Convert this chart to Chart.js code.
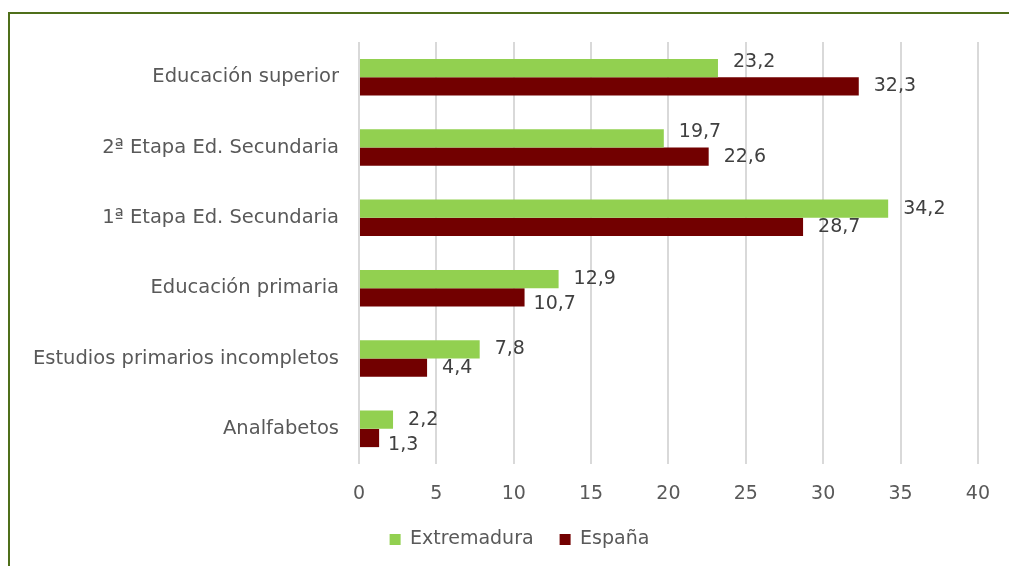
<!DOCTYPE html>
<html lang="es">
<head>
  <meta charset="UTF-8">
  <title>Nivel de estudios: Extremadura y España</title>
  <script src="https://cdn.jsdelivr.net/npm/chart.js"></script>
  <style>
    html, body {
      margin: 0;
      padding: 0;
      background: #ffffff;
      overflow: hidden;
    }
    .frame {
      position: absolute;
      left: 8px;
      top: 12px;
      width: 1001px;
      height: 554px;
      border-top: 2px solid #4f6f1a;
      border-left: 2px solid #4f6f1a;
    }
    .chart-box {
      position: absolute;
      left: 0;
      top: 0;
      width: 1009px;
      height: 566px;
    }
  </style>
</head>
<body>
  <div class="frame"></div>
  <div class="chart-box">
    <canvas id="estudiosChart"></canvas>
  </div>

  <script>
    const categorias = [
      'Educación superior',
      '2ª Etapa Ed. Secundaria',
      '1ª Etapa Ed. Secundaria',
      'Educación primaria',
      'Estudios primarios incompletos',
      'Analfabetos'
    ];
    const extremadura = [23.2, 19.7, 34.2, 12.9, 7.8, 2.2];
    const espana = [32.3, 22.6, 28.7, 10.7, 4.4, 1.3];

    const textColor = '#595959';
    const fontFamily = '"DejaVu Sans", Verdana, sans-serif';

    const fmt = v => v.toFixed(1).replace('.', ',');

    // etiquetas de valor a la derecha de cada barra (coma decimal),
    // separadas en vertical cuando chocan con la otra barra o etiqueta
    const valueLabels = {
      id: 'valueLabels',
      afterDatasetsDraw(chart) {
        const ctx = chart.ctx;
        const g = chart.getDatasetMeta(0).data;
        const r = chart.getDatasetMeta(1).data;
        const gv = chart.data.datasets[0].data;
        const rv = chart.data.datasets[1].data;
        ctx.save();
        ctx.font = '19px ' + fontFamily;
        ctx.fillStyle = '#404040';
        ctx.textAlign = 'left';
        ctx.textBaseline = 'middle';
        g.forEach((gBar, j) => {
          const rBar = r[j];
          const gt = fmt(gv[j]), rt = fmt(rv[j]);
          const gx = gBar.x + 15, rx = rBar.x + 15;
          const gw = ctx.measureText(gt).width, rw = ctx.measureText(rt).width;
          const gUp = rBar.x > gx;
          const rDown = !gUp && rx < gx + gw && gx < rx + rw;
          ctx.fillText(gt, gx, gBar.y - (gUp ? 6 : 0));
          ctx.fillText(rt, rDown ? rBar.x + 9 : rx, rBar.y + (rDown ? 7 : 0));
        });
        ctx.restore();
      }
    };

    // la leyenda va algo desplazada a la derecha en el original
    const legendShift = {
      id: 'legendShift',
      afterLayout(chart) {
        chart.legend.left += 30;
        chart.legend.right += 30;
      }
    };

    new Chart(document.getElementById('estudiosChart'), {
      type: 'bar',
      data: {
        labels: categorias,
        datasets: [
          {
            label: 'Extremadura',
            data: extremadura,
            backgroundColor: '#92d050',
            categoryPercentage: 0.52,
            barPercentage: 1
          },
          {
            label: 'España',
            data: espana,
            backgroundColor: '#720000',
            categoryPercentage: 0.52,
            barPercentage: 1
          }
        ]
      },
      options: {
        indexAxis: 'y',
        responsive: true,
        maintainAspectRatio: false,
        animation: false,
        layout: {
          padding: { top: 42, right: 30, bottom: 7, left: 0 }
        },
        plugins: {
          legend: {
            position: 'bottom',
            labels: {
              boxWidth: 11,
              boxHeight: 11,
              padding: 26,
              color: textColor,
              font: { family: fontFamily, size: 19 }
            }
          },
          tooltip: { enabled: false }
        },
        scales: {
          x: {
            min: 0,
            max: 40,
            afterFit(scale) { scale.height = 40; },
            ticks: {
              stepSize: 5,
              padding: 19,
              color: textColor,
              font: { family: fontFamily, size: 19 }
            },
            grid: {
              color: '#d9d9d9',
              lineWidth: 2,
              drawTicks: false
            },
            border: { display: false }
          },
          y: {
            afterFit(scale) { scale.width = 359; },
            ticks: {
              padding: 20,
              color: textColor,
              font: { family: fontFamily, size: 19.5 }
            },
            grid: { display: false, drawTicks: false },
            border: { display: false }
          }
        }
      },
      plugins: [valueLabels, legendShift]
    });
  </script>
</body>
</html>
